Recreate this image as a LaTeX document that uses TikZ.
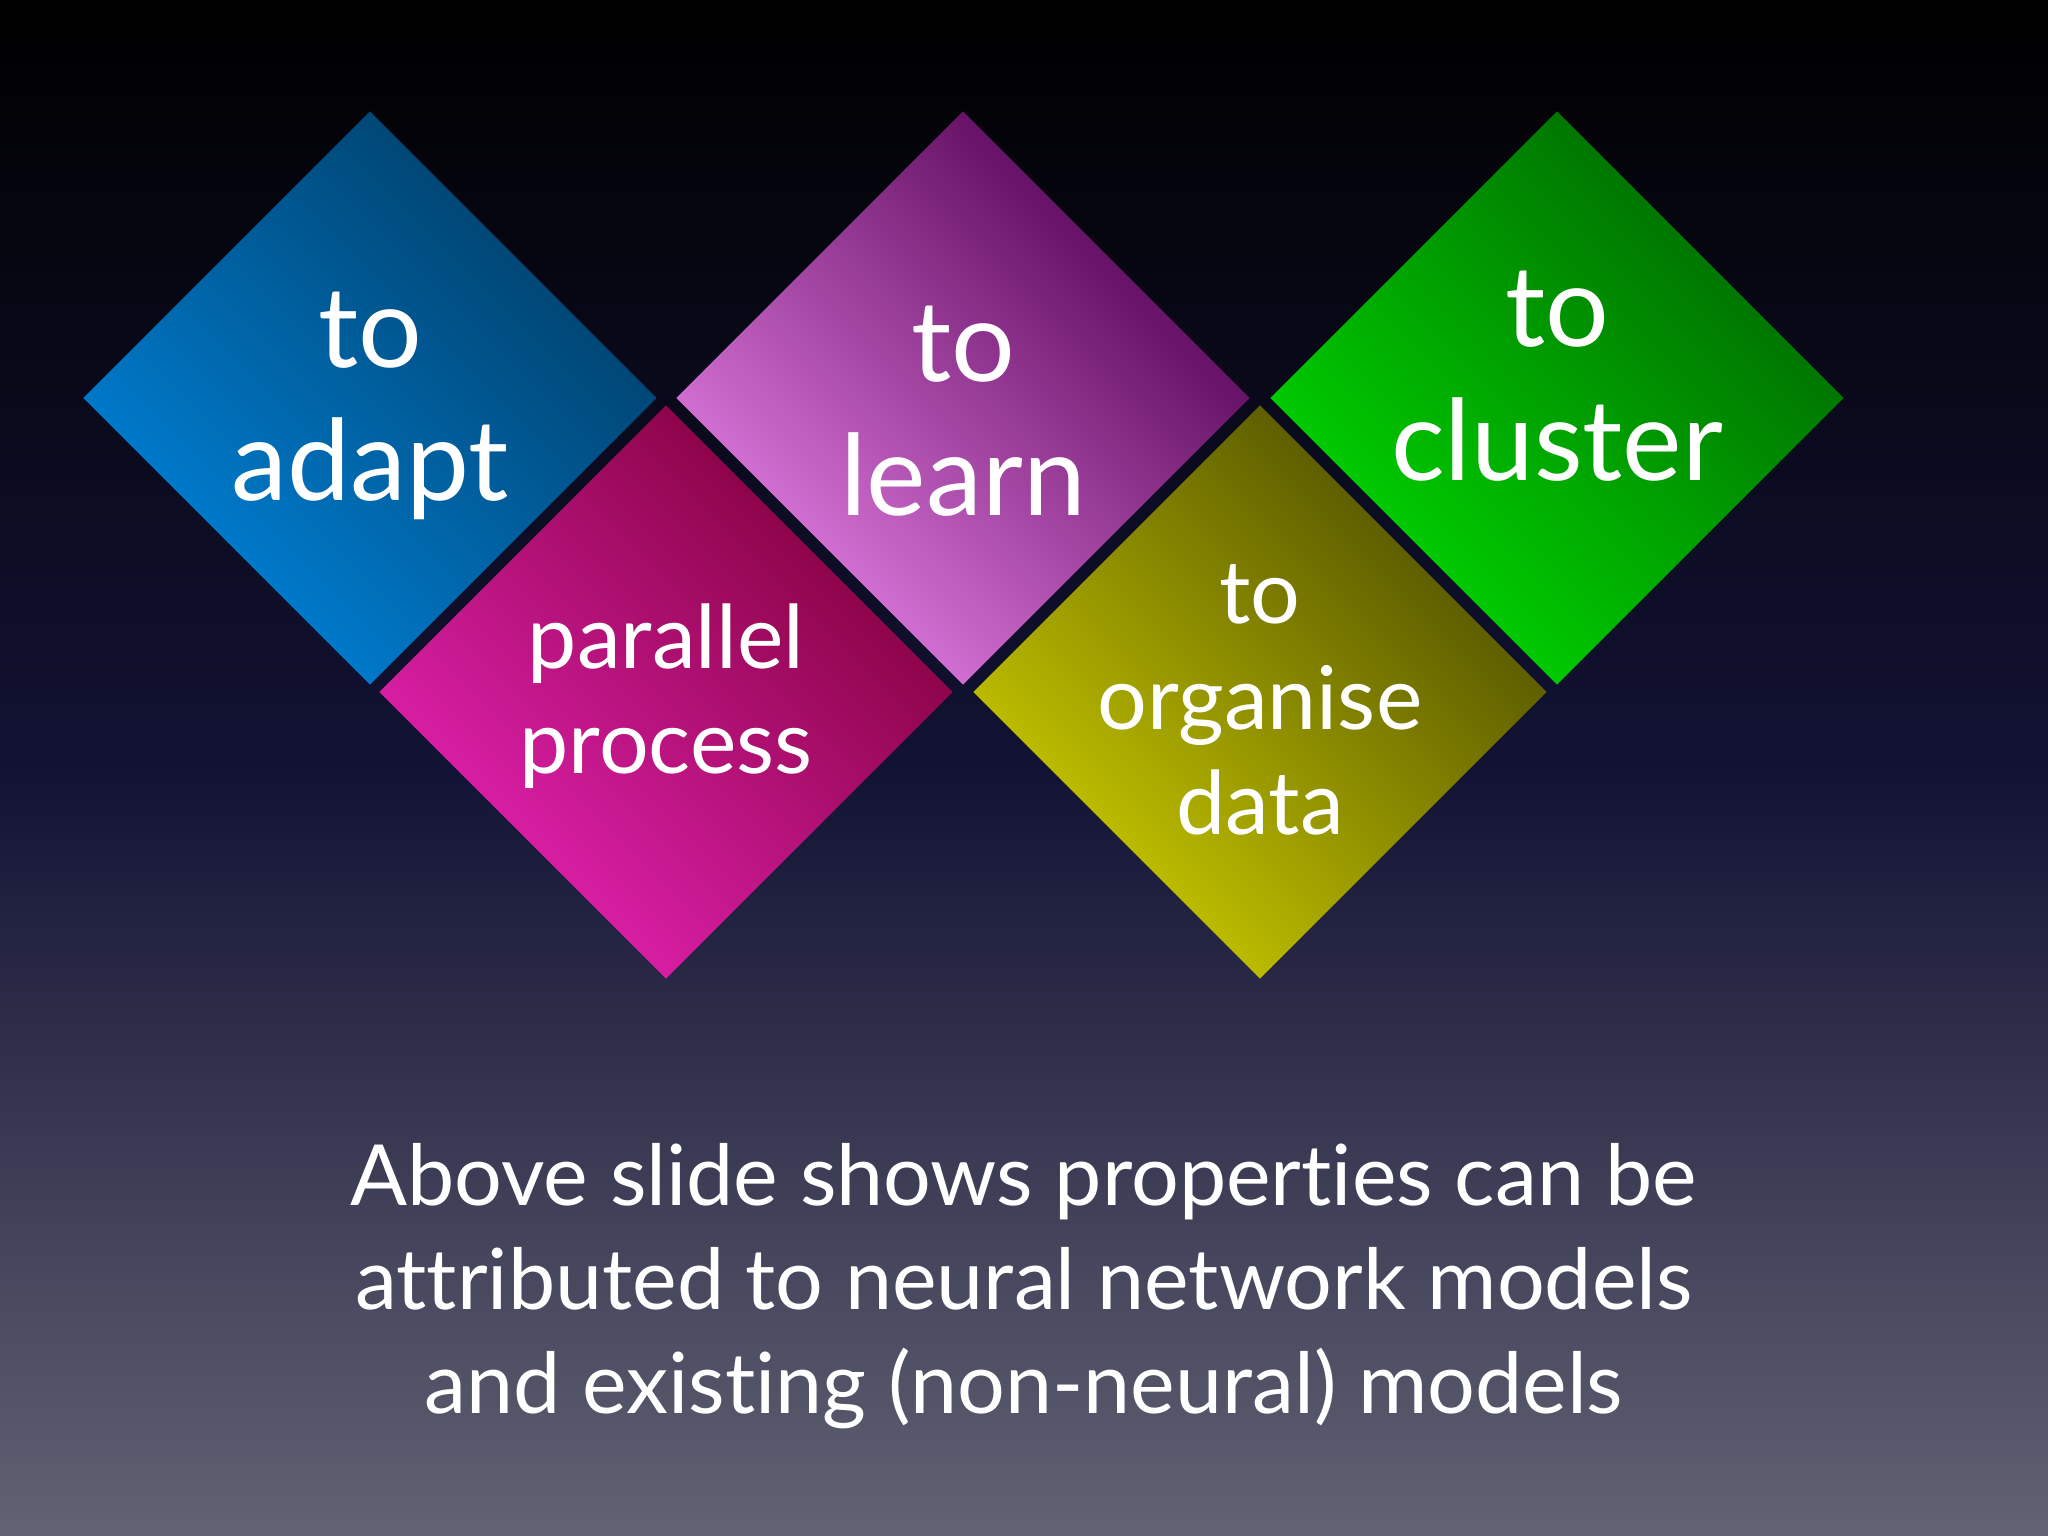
\documentclass[tikz,border=0pt]{standalone}
\usepackage{fontspec}
\setmainfont{Lato}[Ligatures={NoCommon,NoRare,NoContextual}]
\usetikzlibrary{shapes.geometric}

\definecolor{slidetop}{RGB}{0,0,0}
\definecolor{slidemid}{RGB}{18,18,52}
\definecolor{slidebot}{RGB}{98,98,116}

\tikzset{
  tile/.style={draw=none, diamond, aspect=1, minimum width=5.74cm, minimum height=5.74cm, inner sep=0pt},
  tag/.style={align=center, text=white},
  big/.style={font=\fontsize{32}{38}\selectfont},
  mid/.style={font=\fontsize{25}{30}\selectfont}
}

\begin{document}
\begin{tikzpicture}
  % background
  \shade[top color=slidetop, bottom color=slidebot, middle color=slidemid]
    (0,0) rectangle (20.48,15.36);
  \useasboundingbox (0,0) rectangle (20.48,15.36);

  \node [tile, left color=blue!40!cyan!85!black, right color=blue!40!cyan!40!black, shading angle=135] (adapt) at (3.70,11.38) {};
  \node [tile, left color=magenta!75!red!85!white!90!black, right color=magenta!45!red!50!black, shading angle=135] (parallel) at (6.66,8.44) {};
  \node [tile, left color=violet!40!magenta!50!white, right color=violet!40!magenta!40!black, shading angle=135] (learn) at (9.63,11.38) {};
  \node [tile, left color=yellow!80!black, right color=olive!60!black, shading angle=135] (organise) at (12.60,8.44) {};
  \node [tile, left color=green!85!black, right color=green!40!black, shading angle=135] (cluster) at (15.57,11.38) {};

  \node [tag, big] at (3.70,11.30) {to\\adapt};
  \node [tag, mid] at (6.66,8.40) {parallel\\process};
  \node [tag, big] at (9.63,11.25) {to\\learn};
  \node [tag, mid] at (12.60,8.36) {to\\organise\\data};
  \node [tag, big] at (15.57,11.60) {to\\cluster};

  \node [tag, font=\fontsize{24}{29.5}\selectfont] (caption) at (10.24,2.50)
    {Above slide shows properties can be\\attributed to neural network models\\and existing (non-neural) models};
\end{tikzpicture}
\end{document}
